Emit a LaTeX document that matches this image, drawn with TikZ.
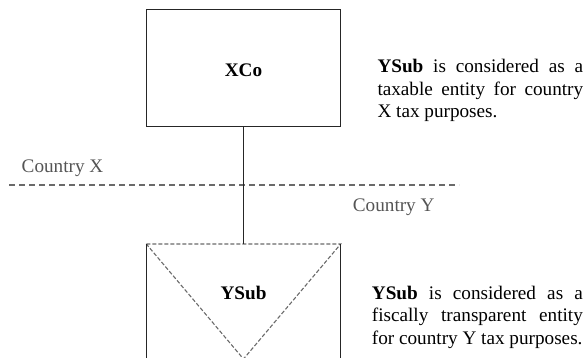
\documentclass[tikz,border=0pt]{standalone}
\usepackage{fontspec}
\setmainfont{Liberation Serif}
\definecolor{boxline}{HTML}{262626}
\definecolor{dashgray}{HTML}{6A6A6A}
\definecolor{labelgray}{HTML}{555555}
% notes are justified without hyphenation
\hyphenpenalty=10000
\exhyphenpenalty=10000
\tolerance=9999
\begin{document}
\begin{tikzpicture}[x=1pt,y=-1pt,
  entity/.style={draw=boxline, line width=1.5pt, minimum width=194pt,
    minimum height=117pt, inner sep=0pt, font=\fontsize{19.2}{22.5}\selectfont\bfseries},
  region/.style={minimum width=194pt, minimum height=140pt, inner sep=0pt},
  side/.style={draw=boxline, line width=1.5pt},
  link/.style={draw=boxline, line width=1.4pt},
  border/.style={draw=dashgray, line width=1.1pt, dash pattern=on 6pt off 4pt},
  transparent/.style={draw=dashgray, line width=1.1pt, dash pattern=on 4pt off 2pt},
  country/.style={anchor=base west, inner sep=0pt, text=labelgray,
    font=\fontsize{19.2}{22.5}\selectfont},
  note/.style={anchor=base west, inner sep=0pt, align=justify,
    font=\fontsize{19.2}{22.5}\selectfont}]
  \useasboundingbox (0,0) rectangle (587,357);
  \clip (0,0) rectangle (587,357);

  % parent company
  \node[entity, text height=16.9pt, text depth=0pt] (xco) at (243.5,68.2) {XCo};

  % subsidiary, open at the bottom
  \node[region, anchor=north] (ysub) at (243.5,244) {};
  \node[anchor=base, inner sep=0pt, font=\fontsize{19.2}{22.5}\selectfont\bfseries]
    (ysublabel) at (243.5,299) {YSub};
  \coordinate (apex) at (243.5,359);
  \draw[transparent] (ysub.north west) -- (ysub.north east) -- (apex) -- cycle;
  \draw[side] (ysub.north west) -- (ysub.south west);
  \draw[side] (ysub.north east) -- (ysub.south east);

  % border between the two countries
  \coordinate (borderW) at (9,185);
  \coordinate (borderE) at (459,185);
  \draw[border] (borderW) -- (borderE);
  \node[country] (cx) at (21.5,172.7) {Country X};
  \node[country] (cy) at (352.7,211.7) {Country Y};

  % ownership link
  \draw[link] (xco.south) -- (ysub.north);

  % explanatory notes
  \node[note, text width=205.7pt] (notex) at (377.3,72.7)
    {\textbf{YSub} is considered as a taxable entity for country X tax purposes.};
  \node[note, text width=211pt] (notey) at (371.7,299)
    {\textbf{YSub} is considered as a fiscally transparent entity for country Y tax purposes.};
\end{tikzpicture}
\end{document}
